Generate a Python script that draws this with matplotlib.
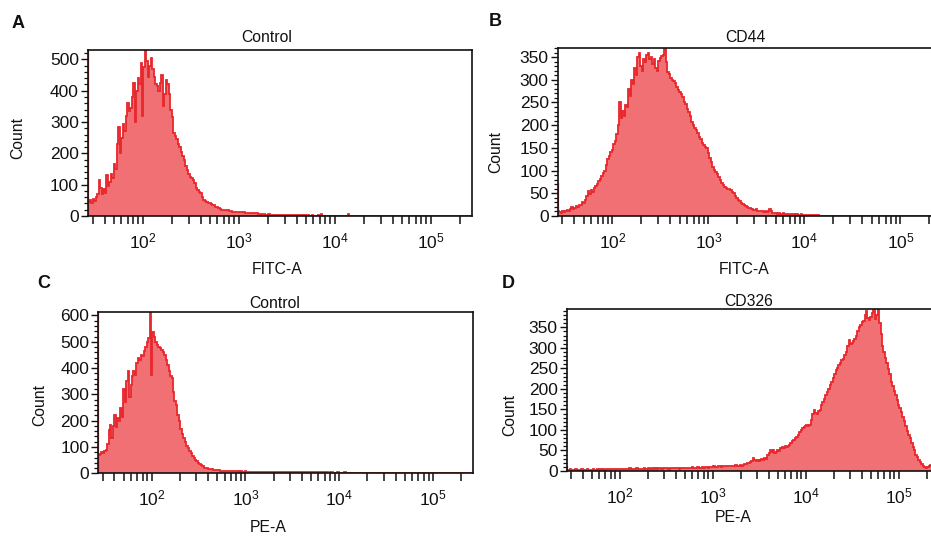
import numpy as np
import matplotlib
matplotlib.use("Agg")
import matplotlib.pyplot as plt
from matplotlib.ticker import MultipleLocator, LogLocator, NullFormatter

plt.rcParams['font.family'] = ['Liberation Sans', 'DejaVu Sans']
plt.rcParams['mathtext.fontset'] = 'custom'
plt.rcParams['mathtext.rm'] = 'Liberation Sans'
plt.rcParams['mathtext.it'] = 'Liberation Sans:italic'
plt.rcParams['mathtext.bf'] = 'Liberation Sans:bold'

# ---------------- data (counts per channel, 64 channels per decade from 10^1.43) -------------
log_start = 1.43
channels_per_decade = 64
n_channels = 256

panel_letters = ["A", "B", "C", "D"]
panel_titles = ["Control", "CD44", "Control", "CD326"]
x_labels = ["FITC-A", "FITC-A", "PE-A", "PE-A"]
y_label = "Count"
x_tick_values = [1e2, 1e3, 1e4, 1e5]

# events piled up at the low end of the scale (first channel)
offscale_low = [2000, 72, 2000, 11]

counts_A = [45, 50, 40, 55, 48, 60, 70, 115, 90, 70,
            85, 75, 130, 95, 110, 135, 120, 165, 150, 230,
            285, 200, 250, 295, 270, 320, 360, 335, 345, 380,
            425, 300, 400, 440, 420, 490, 320, 475, 530, 495,
            445, 480, 505, 470, 445, 420, 415, 400, 425, 450,
            350, 390, 435, 420, 390, 340, 315, 265, 255, 245,
            230, 220, 205, 190, 180, 160, 148, 135, 126, 120,
            115, 105, 90, 83, 78, 72, 60, 52, 48, 46,
            42, 40, 38, 36, 34, 30, 28, 24, 21, 20,
            20, 19, 18, 19, 16, 15, 14, 14, 13, 12,
            14, 13, 13, 12, 12, 11, 11, 10, 10, 9,
            9, 8, 8, 7, 7, 6, 5, 5, 4, 4,
            5, 4, 3, 4, 3, 4, 3, 3, 4, 3,
            3, 2, 3, 2, 3, 2, 2, 3, 2, 2,
            2, 3, 2, 1, 2, 1, 2, 1, 1, 2,
            1, 1, 1, 2, 1, 5, 1, 1, 0, 1,
            0, 1, 0, 1, 0, 1, 0, 0, 0, 1,
            0, 0, 0, 5, 0, 0]

counts_B = [10, 8, 6, 12, 8, 10, 14, 10, 16, 20,
            15, 18, 22, 20, 25, 24, 30, 28, 35, 45,
            55, 48, 58, 52, 62, 66, 70, 78, 82, 88,
            95, 100, 112, 125, 132, 140, 145, 158, 165, 180,
            200, 250, 215, 232, 220, 245, 240, 280, 265, 300,
            290, 325, 310, 350, 358, 330, 320, 345, 340, 355,
            358, 345, 350, 335, 345, 325, 320, 342, 348, 352,
            355, 368, 340, 318, 312, 305, 300, 298, 294, 285,
            278, 272, 268, 262, 250, 247, 235, 228, 220, 208,
            200, 193, 190, 182, 175, 170, 160, 157, 152, 149,
            138, 128, 118, 108, 102, 97, 92, 85, 79, 72,
            68, 64, 61, 60, 60, 58, 52, 50, 44, 39,
            35, 32, 29, 26, 24, 22, 20, 18, 17, 15,
            13, 14, 15, 12, 11, 10, 10, 9, 10, 9,
            12, 15, 10, 7, 6, 6, 5, 6, 5, 5,
            6, 5, 4, 5, 4, 4, 5, 4, 3, 4,
            3, 3, 4, 3, 3, 2, 3, 2, 3, 2,
            2, 2, 0, 2, 0, 1]

counts_C = [70, 75, 80, 78, 85, 90, 110, 165, 184, 135,
            180, 222, 175, 212, 200, 250, 215, 320, 272, 350,
            387, 290, 336, 370, 390, 374, 420, 438, 430, 450,
            445, 463, 480, 501, 514, 620, 374, 539, 520, 500,
            488, 480, 476, 470, 460, 450, 430, 410, 387, 370,
            361, 310, 273, 260, 222, 200, 170, 150, 135, 120,
            105, 95, 85, 76, 65, 58, 52, 46, 40, 35,
            32, 26, 22, 20, 19, 18, 16, 15, 13, 13,
            12, 11, 11, 10, 10, 9, 9, 10, 8, 9,
            8, 8, 8, 7, 8, 7, 6, 7, 6, 6,
            7, 6, 6, 5, 6, 6, 5, 6, 5, 5,
            6, 5, 5, 6, 5, 5, 4, 5, 5, 6,
            5, 5, 4, 5, 5, 6, 5, 4, 5, 5,
            4, 5, 6, 5, 4, 5, 5, 6, 4, 5,
            5, 5, 4, 6, 5, 4, 5, 5, 4, 5,
            4, 5, 5, 6, 5, 4, 5, 3, 4, 5,
            3, 2, 3, 4, 2, 1, 3, 2, 6, 1]

counts_D = [3, 2, 4, 3, 2, 3, 4, 2, 3, 3,
            4, 3, 2, 3, 4, 3, 3, 2, 4, 3,
            3, 4, 3, 5, 3, 4, 3, 4, 5, 4,
            4, 5, 4, 6, 5, 5, 6, 5, 4, 6,
            5, 6, 5, 7, 5, 6, 6, 5, 7, 6,
            5, 6, 6, 7, 5, 6, 7, 6, 6, 7,
            6, 7, 6, 7, 8, 6, 7, 7, 8, 7,
            6, 8, 7, 7, 8, 7, 8, 6, 7, 8,
            7, 8, 7, 8, 8, 7, 9, 8, 7, 8,
            9, 8, 8, 9, 8, 9, 9, 8, 9, 10,
            9, 11, 10, 10, 12, 11, 10, 12, 11, 12,
            11, 13, 12, 11, 13, 12, 14, 13, 12, 14,
            13, 15, 16, 18, 20, 19, 22, 24, 31, 28,
            25, 27, 24, 27, 30, 28, 32, 30, 38, 45,
            51, 46, 50, 44, 47, 52, 48, 55, 59, 56,
            60, 58, 62, 63, 68, 72, 76, 80, 84, 88,
            96, 100, 105, 108, 110, 112, 110, 112, 125, 140,
            148, 142, 138, 145, 148, 160, 168, 175, 186, 192,
            200, 210, 218, 226, 236, 246, 252, 258, 264, 270,
            274, 282, 290, 305, 319, 310, 313, 316, 322, 330,
            340, 350, 356, 362, 366, 380, 390, 372, 368, 375,
            385, 392, 370, 380, 394, 360, 335, 305, 290, 275,
            262, 248, 236, 218, 206, 195, 185, 174, 162, 153,
            143, 132, 122, 110, 98, 88, 80, 68, 58, 50,
            40, 33, 27, 22, 18, 13, 10, 8, 9, 13,
            15, 12, 10, 8, 6, 5]

all_counts = [counts_A, counts_B, counts_C, counts_D]
y_max = [530, 370, 612, 394]
y_major = [100, 50, 100, 50]
y_minor = [20, 10, 20, 10]

# ---------------- layout (pixels) ----------------
W, H = 931, 536
fill_color = "#F07074"
line_color = "#E8262C"

axes_px = [(88, 50, 472, 216),
           (557.7, 48, 941.7, 216),
           (98.3, 312.3, 473.3, 473.3),
           (566.7, 309.3, 938.7, 471)]
title_px = [(267, 38), (745, 38), (275, 303), (749, 301)]
letter_px = [(18, 23), (495, 22), (44, 283), (508, 284)]
xlabel_px = [(277, 269), (744, 269), (268, 527), (733, 517)]
ylabel_px = [(18, 138), (496, 152), (40, 405), (510, 415)]

fig = plt.figure(figsize=(W / 100, H / 100), dpi=100)


def fx(x):
    return x / W


def fy(y):
    return 1 - y / H


edges = 10 ** (log_start + np.arange(n_channels + 1) / channels_per_decade)
x_lo, x_hi = edges[0], edges[-1]

for k in range(4):
    l, t, r, b = axes_px[k]
    ax = fig.add_axes([fx(l), fy(b), (r - l) / W, (b - t) / H])
    vals = np.zeros(n_channels)
    c = np.asarray(all_counts[k], dtype=float)[:n_channels]
    vals[:len(c)] = c
    ax.stairs(vals, edges, fill=True, color=fill_color, lw=0, zorder=1)
    ax.stairs(vals, edges, color=line_color, lw=1.3, zorder=2)
    ax.vlines(x_lo * 1.004, 0, min(offscale_low[k], y_max[k]), color=line_color, lw=1.6, zorder=2)

    ax.set_xscale('log')
    ax.set_xlim(x_lo, x_hi)
    ax.set_ylim(0, y_max[k])
    ax.xaxis.set_major_locator(LogLocator(base=10, numticks=20))
    ax.xaxis.set_minor_locator(LogLocator(base=10, subs=np.arange(2, 10), numticks=20))
    ax.xaxis.set_minor_formatter(NullFormatter())
    ax.yaxis.set_major_locator(MultipleLocator(y_major[k]))
    ax.yaxis.set_minor_locator(MultipleLocator(y_minor[k]))

    for s in ax.spines.values():
        s.set_linewidth(1.2)
        s.set_color('#111111')
    ax.tick_params(axis='y', which='major', length=5, width=1.0, direction='out',
                   labelsize=12.5, pad=1.5, right=False, colors='#111111')
    ax.tick_params(axis='y', which='minor', length=3, width=0.9, direction='out', right=False,
                   colors='#111111')
    ax.tick_params(axis='x', which='both', length=5.5, width=1.1, direction='out',
                   labelsize=12.5, pad=5.5, top=False, colors='#111111')

    fig.text(fx(title_px[k][0]), fy(title_px[k][1]), panel_titles[k], ha='center', va='center',
             fontsize=11.3, color='#111111')
    fig.text(fx(letter_px[k][0]), fy(letter_px[k][1]), panel_letters[k], ha='center', va='center',
             fontsize=13, fontweight='bold', color='#111111')
    fig.text(fx(xlabel_px[k][0]), fy(xlabel_px[k][1]), x_labels[k], ha='center', va='center',
             fontsize=11.3, color='#111111')
    fig.text(fx(ylabel_px[k][0]), fy(ylabel_px[k][1]), y_label, ha='center', va='center',
             rotation=90, fontsize=11.3, color='#111111')

fig.savefig("out.png", dpi=100)
